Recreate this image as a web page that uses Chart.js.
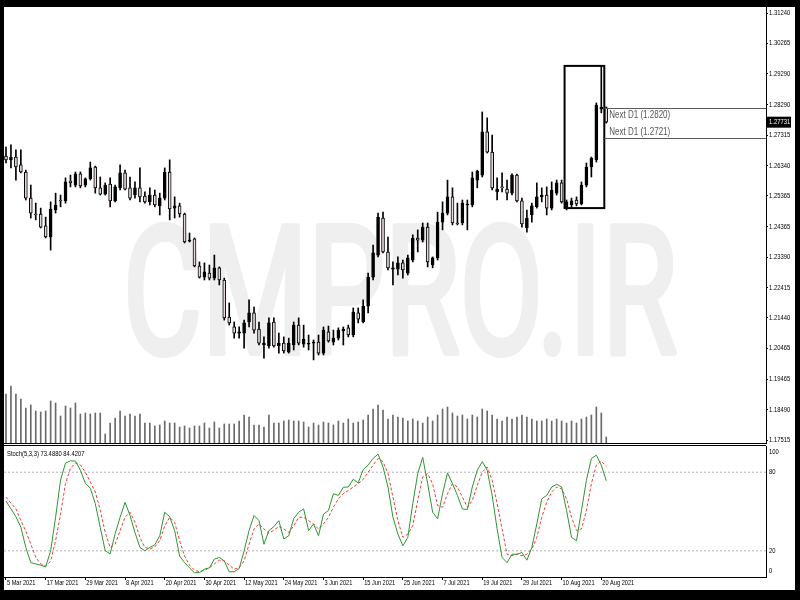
<!DOCTYPE html>
<html><head><meta charset="utf-8">
<script src="https://cdn.jsdelivr.net/npm/chart.js@4"></script>
<style>
html,body{margin:0;padding:0;background:#000;width:800px;height:600px;overflow:hidden}
#frame{position:absolute;left:4px;top:7px;width:791px;height:583px;background:#fff}
#c1{position:absolute;left:4px;top:7px}
#c2{position:absolute;left:4px;top:440px}
</style></head><body>
<div id="frame"></div>
<canvas id="c1" width="791" height="438"></canvas>
<canvas id="c2" width="791" height="150"></canvas>
<script>
// ---------- data ----------
const priceTicks = [1.31240,1.30265,1.29290,1.28290,1.27315,1.26340,1.25365,1.24365,1.23390,1.22415,1.21440,1.20465,1.19465,1.18490,1.17515];
const xTickLabels = ["5 Mar 2021","17 Mar 2021","29 Mar 2021","8 Apr 2021","20 Apr 2021","30 Apr 2021","12 May 2021","24 May 2021","3 Jun 2021","15 Jun 2021","25 Jun 2021","7 Jul 2021","19 Jul 2021","29 Jul 2021","10 Aug 2021","20 Aug 2021"];
const xTickBars = [0,8,16,24,32,40,48,56,64,72,80,88,96,104,112,120];

const open = [1.2664,1.2652,1.2661,1.2636,1.2613,1.2529,1.2478,1.2478,1.2440,1.2404,
1.2491,1.2523,1.2520,1.2584,1.2571,1.2607,1.2571,1.2591,1.2629,1.2562,
1.2542,1.2574,1.2520,1.2562,1.2610,1.2562,1.2539,1.2562,1.2536,1.2517,
1.2539,1.2504,1.2529,1.2613,1.2497,1.2504,1.2478,1.2391,1.2398,1.2311,
1.2275,1.2288,1.2272,1.2305,1.2266,1.2147,1.2115,1.2095,1.2095,1.2131,
1.2160,1.2108,1.2057,1.2054,1.2131,1.2054,1.2063,1.2034,1.2057,1.2121,
1.2060,1.2060,1.2063,1.2066,1.2031,1.2099,1.2066,1.2079,1.2102,1.2112,
1.2089,1.2160,1.2131,1.2182,1.2275,1.2346,1.2465,1.2356,1.2301,1.2301,
1.2321,1.2288,1.2330,1.2401,1.2394,1.2436,1.2314,1.2337,1.2452,1.2481,
1.2533,1.2449,1.2449,1.2507,1.2507,1.2587,1.2603,1.2742,1.2677,1.2549,
1.2565,1.2558,1.2545,1.2603,1.2520,1.2433,1.2475,1.2501,1.2533,1.2539,
1.2497,1.2545,1.2578,1.2501,1.2507,1.2523,1.2510,1.2571,1.2629,1.2652,
1.2815,1.2819];
const high = [1.2693,1.2700,1.2684,1.2684,1.2619,1.2571,1.2513,1.2497,1.2468,1.2517,
1.2545,1.2539,1.2594,1.2603,1.2613,1.2613,1.2594,1.2645,1.2632,1.2597,
1.2578,1.2594,1.2571,1.2636,1.2619,1.2597,1.2581,1.2626,1.2549,1.2562,
1.2555,1.2545,1.2626,1.2652,1.2533,1.2513,1.2481,1.2417,1.2401,1.2324,
1.2321,1.2314,1.2346,1.2308,1.2272,1.2192,1.2131,1.2115,1.2137,1.2202,
1.2179,1.2131,1.2083,1.2144,1.2144,1.2095,1.2083,1.2079,1.2131,1.2144,
1.2121,1.2089,1.2073,1.2089,1.2115,1.2118,1.2105,1.2112,1.2115,1.2121,
1.2176,1.2176,1.2202,1.2288,1.2378,1.2481,1.2484,1.2404,1.2324,1.2340,
1.2330,1.2346,1.2411,1.2427,1.2449,1.2449,1.2340,1.2484,1.2517,1.2587,
1.2562,1.2513,1.2523,1.2523,1.2613,1.2619,1.2806,1.2787,1.2732,1.2594,
1.2610,1.2587,1.2607,1.2606,1.2529,1.2491,1.2513,1.2578,1.2562,1.2565,
1.2581,1.2587,1.2587,1.2523,1.2529,1.2533,1.2581,1.2642,1.2661,1.2835,
1.2954,1.2822];
const low = [1.2642,1.2626,1.2587,1.2610,1.2523,1.2465,1.2459,1.2433,1.2401,1.2362,
1.2481,1.2501,1.2513,1.2565,1.2565,1.2562,1.2565,1.2587,1.2545,1.2539,
1.2539,1.2501,1.2517,1.2555,1.2555,1.2523,1.2529,1.2517,1.2513,1.2507,
1.2501,1.2475,1.2523,1.2459,1.2465,1.2468,1.2385,1.2388,1.2308,1.2272,
1.2266,1.2266,1.2266,1.2250,1.2137,1.2121,1.2079,1.2079,1.2047,1.2115,
1.2095,1.2057,1.2015,1.2047,1.2050,1.2031,1.2031,1.2031,1.2041,1.2057,
1.2050,1.2041,1.2009,1.2025,1.2025,1.2066,1.2057,1.2073,1.2057,1.2083,
1.2083,1.2128,1.2128,1.2160,1.2266,1.2340,1.2353,1.2298,1.2250,1.2282,
1.2272,1.2282,1.2324,1.2356,1.2388,1.2308,1.2305,1.2330,1.2427,1.2475,
1.2443,1.2443,1.2443,1.2427,1.2501,1.2562,1.2597,1.2674,1.2555,1.2523,
1.2549,1.2523,1.2539,1.2517,1.2436,1.2420,1.2452,1.2497,1.2517,1.2475,
1.2491,1.2539,1.2513,1.2491,1.2501,1.2504,1.2507,1.2565,1.2597,1.2645,
1.2803,1.2770];
const close = [1.2652,1.2661,1.2629,1.2613,1.2529,1.2481,1.2475,1.2436,1.2404,1.2494,
1.2507,1.2520,1.2581,1.2578,1.2607,1.2568,1.2591,1.2626,1.2562,1.2542,
1.2571,1.2520,1.2565,1.2610,1.2558,1.2529,1.2562,1.2533,1.2517,1.2539,
1.2507,1.2529,1.2613,1.2494,1.2504,1.2478,1.2388,1.2394,1.2311,1.2275,
1.2292,1.2272,1.2305,1.2266,1.2144,1.2128,1.2095,1.2099,1.2128,1.2160,
1.2105,1.2063,1.2063,1.2128,1.2054,1.2063,1.2038,1.2063,1.2121,1.2063,
1.2076,1.2063,1.2066,1.2031,1.2105,1.2070,1.2079,1.2105,1.2108,1.2089,
1.2163,1.2140,1.2182,1.2275,1.2353,1.2468,1.2356,1.2305,1.2305,1.2321,
1.2298,1.2337,1.2401,1.2394,1.2436,1.2324,1.2337,1.2452,1.2481,1.2533,
1.2449,1.2446,1.2513,1.2510,1.2594,1.2616,1.2742,1.2677,1.2562,1.2558,
1.2562,1.2545,1.2603,1.2520,1.2446,1.2465,1.2504,1.2533,1.2539,1.2497,
1.2555,1.2578,1.2517,1.2517,1.2520,1.2510,1.2571,1.2629,1.2658,1.2828,
1.2822,1.27731];
const volumeK = [49,57,49,44,35,38,32,31,32,42, 40,27,37,35,40,29,30,29,30,30,
9,20,25,32,27,29,27,29,20,20, 17,18,22,20,20,16,17,15,17,17,
20,15,21,15,19,19,19,22,28,26, 18,18,16,28,20,20,22,23,22,22,
21,16,20,18,21,20,18,22,20,24, 20,21,23,28,34,38,33,24,28,26,
25,22,24,22,20,26,22,28,34,36, 30,27,28,24,28,26,34,32,28,24,
22,26,24,26,28,26,24,22,22,24, 22,24,22,20,22,20,24,26,28,36,
30,6];
const stochK = [58,52,46,38,22.5,11,10,9,7.7,20, 45.6,74,87,88.7,88.5,81.5,71.5,67.7,56,38,
20,17.7,33,45.6,57,47,34,22.6,20,22.6, 24.6,31.5,49.5,46,35.4,16,11,7,3.3,3.3,
6,7,13.6,14.9,12.3,4,4,6.4,20,35.4, 47,43,25,35.4,38.5,43,29,31.5,44.6,49.5,
52,35.4,40.5,31.5,48,50.8,63.6,62.3,68.5,68.7, 74.6,71.8,82,85.4,90.5,93.8,84,68.7,45.6,32.8,
23.8,30.2,56,79,91.3,71.3,49.5,44.4,63.6,79.5, 71.3,62.3,52,51.5,68.7,81.5,88,81.5,62.3,36.7,
14.9,11,17.4,17.4,18.7,12.8,22.6,40.5,59.7,62.3, 68.7,70.8,68.7,50.8,30.2,27.7,50.8,73.8,90.5,93,
85.4,73.488];
const stochD = [61,56.4,52,43,35,25,15,10,8.5,12, 27.7,48,71.5,83,87,85.5,80,72.5,65,51,
34,22.5,25,35.4,45.6,49.5,41.8,30,22.6,21.4, 23,27.7,39,45.6,41.8,27.7,16,9,5.2,4,
5,7,10,12.8,12.3,9,6,7,12.3,25, 36.7,40.5,36.7,33.3,35.8,38.5,36.7,34,39,45.6,
45.6,43,40.5,36.7,40.5,45.6,53.3,59.7,63.6,66, 68.7,71.3,74.4,80,85.4,90.5,88,79,61,43,
30.2,32.8,39.2,58.5,76.4,79,71.3,54.6,53.3,63.6, 71.3,68.7,61,53.3,58.5,70,80,84,73.8,56,
36.7,17.4,16.2,17.4,16.2,17.4,21.3,30.2,45.6,57.2, 64.9,68.7,67.4,59.7,45.6,35.4,36.7,50.8,71.3,85.4,
88.5,84.4207];
const stochLevels = [20, 80];
const stochTicks = [0, 20, 80, 100];
const nextD1 = [1.2820, 1.2721];
const currentPrice = 1.27731;
const boxBars = [113, 120];
const boxPrices = [1.2497, 1.2954];
const xRange = [-0.4, 153.2];
const priceRange = [1.17420, 1.31433];
const volRange = [0, 436];

// ---------- styles / helpers ----------
const FAM = '"Liberation Sans",Arial,sans-serif';
const NARROW = 0.78;
const bodyColors = open.map((o,i)=> close[i] >= o ? '#000000' : '#e8dada');

function narrowText(ctx, text, x, y, size, color, align, baseline, squeeze){
  ctx.save();
  ctx.font = size + 'px ' + FAM;
  ctx.fillStyle = color;
  ctx.textAlign = align;
  ctx.textBaseline = baseline;
  ctx.translate(x, y);
  ctx.scale(squeeze || NARROW, 1);
  ctx.fillText(text, 0, 0);
  ctx.restore();
}

const mainDecor = {
  id:'mainDecor',
  beforeDatasetsDraw(chart){
    const ctx = chart.ctx;
    ctx.save();
    ctx.fillStyle = '#efefef';
    ctx.strokeStyle = '#efefef';
    ctx.lineJoin = 'round';
    ctx.font = '400 178px Roboto';
    ctx.textBaseline = 'alphabetic';
    const t = 'CMPRO.IR';
    const w = ctx.measureText(t).width;
    ctx.translate(119, 346);
    ctx.scale(554 / w, 1);
    ctx.lineWidth = 6;
    ctx.fillText(t, 0, 0);
    ctx.strokeText(t, 0, 0);
    ctx.restore();
  },
  afterDatasetsDraw(chart){
    const {ctx, chartArea:a, scales} = chart;
    const xs = scales.x, ys = scales.y;
    ctx.save();
    const x1 = xs.getPixelForValue(boxBars[0]) - 2;
    const x2 = xs.getPixelForValue(boxBars[1]) + 3;
    const y1 = ys.getPixelForValue(boxPrices[1]);
    const y2 = ys.getPixelForValue(boxPrices[0]);
    ctx.strokeStyle = '#000'; ctx.lineWidth = 2;
    ctx.strokeRect(x1, y1, x2 - x1, y2 - y1);
    ctx.lineWidth = 1; ctx.strokeStyle = '#5a5a5a';
    nextD1.forEach((v, k) => {
      const y = Math.round(ys.getPixelForValue(v)) + 0.5;
      ctx.beginPath(); ctx.moveTo(x2, y); ctx.lineTo(a.right, y); ctx.stroke();
      const txt = 'Next D1 (' + v.toFixed(4) + ')';
      if (k === 0) narrowText(ctx, txt, x2 + 5, y + 2, 10, '#555', 'left', 'top', 0.8);
      else narrowText(ctx, txt, x2 + 5, y - 1, 10, '#555', 'left', 'bottom', 0.8);
    });
    ctx.restore();
  },
  afterDraw(chart){
    const {ctx, chartArea:a, scales} = chart;
    ctx.save();
    ctx.strokeStyle = '#000'; ctx.lineWidth = 1;
    ctx.beginPath(); ctx.moveTo(0, a.bottom + 0.5); ctx.lineTo(a.right, a.bottom + 0.5); ctx.stroke();
    ctx.restore();
    priceTicks.forEach(v => {
      narrowText(ctx, v.toFixed(5), a.right + 3, scales.y.getPixelForValue(v), 7.5, '#000', 'left', 'middle');
    });
    const y = scales.y.getPixelForValue(currentPrice);
    ctx.save();
    ctx.fillStyle = '#000';
    ctx.fillRect(a.right, y - 5.5, 25, 11);
    ctx.restore();
    narrowText(ctx, currentPrice.toFixed(5), a.right + 3, y, 7.5, '#fff', 'left', 'middle');
  }
};

const stochDecor = {
  id:'stochDecor',
  afterDraw(chart){
    const {ctx, chartArea:a, scales} = chart;
    ctx.save();
    ctx.strokeStyle = '#000'; ctx.lineWidth = 1;
    ctx.beginPath(); ctx.moveTo(0, a.top - 0.5); ctx.lineTo(a.right, a.top - 0.5); ctx.stroke();
    ctx.restore();
    const n = stochK.length - 1;
    narrowText(ctx, 'Stoch(5,3,3) ' + stochK[n].toFixed(4) + ' ' + stochD[n].toFixed(4), 3, a.top + 4, 7.5, '#000', 'left', 'top');
    stochTicks.forEach(v => {
      let y = scales.y.getPixelForValue(v);
      y = Math.min(Math.max(y, a.top + 6), a.bottom - 6);
      narrowText(ctx, String(v), a.right + 3, y, 7.5, '#000', 'left', 'middle');
    });
    xTickBars.forEach((b, k) => {
      narrowText(ctx, xTickLabels[k], scales.x.getPixelForValue(b) + 1, a.bottom + 6, 7.5, '#000', 'left', 'middle', 0.75);
    });
  }
};

const idx = open.map((_, i) => i);

new Chart(document.getElementById('c1'), {
  type: 'bar',
  data: {
    datasets: [
      { data: idx.map(i => ({x:i, y:[open[i], close[i]]})), backgroundColor: bodyColors,
        borderColor:'#000', borderWidth:1, borderSkipped:false, barThickness:3, grouped:false, yAxisID:'y' },
      { data: idx.map(i => ({x:i, y:[low[i], high[i]]})), backgroundColor:'#000',
        borderWidth:0, barThickness:1, grouped:false, yAxisID:'y' },
      { data: idx.map(i => ({x:i, y:volumeK[i]})), backgroundColor:'#6a6a6a',
        borderWidth:0, barThickness:1, grouped:false, yAxisID:'yv' }
    ]
  },
  options: {
    responsive:false, devicePixelRatio:1, animation:false,
    layout:{padding:{top:0,bottom:2,left:0,right:0}},
    plugins:{legend:{display:false}, tooltip:{enabled:false}},
    scales:{
      x:{type:'linear', display:false, min:xRange[0], max:xRange[1], offset:false},
      y:{position:'right', min:priceRange[0], max:priceRange[1],
         afterBuildTicks: s => { s.ticks = priceTicks.map(v => ({value:v})); },
         afterFit: s => { s.width = 29; },
         grid:{drawOnChartArea:false, drawTicks:true, tickLength:2, color:'#000'},
         border:{display:true, color:'#000', width:1},
         ticks:{display:false}},
      yv:{position:'left', display:false, min:volRange[0], max:volRange[1]}
    }
  },
  plugins:[mainDecor]
});

new Chart(document.getElementById('c2'), {
  type: 'line',
  data: {
    datasets: [
      { data: idx.map(i => ({x:i, y:stochK[i]})), borderColor:'#2f962f', borderWidth:1, pointRadius:0, tension:0 },
      { data: idx.map(i => ({x:i, y:stochD[i]})), borderColor:'#f03c3c', borderWidth:1, borderDash:[3,2], pointRadius:0, tension:0 },
      ...stochLevels.map(l => ({ data:[{x:xRange[0], y:l},{x:xRange[1], y:l}], borderColor:'#b4b4b4', borderWidth:1, borderDash:[2,2], pointRadius:0 }))
    ]
  },
  options: {
    responsive:false, devicePixelRatio:1, animation:false,
    layout:{padding:{top:6,bottom:0,left:0,right:0}},
    plugins:{legend:{display:false}, tooltip:{enabled:false}},
    scales:{
      x:{type:'linear', min:xRange[0], max:xRange[1], offset:false,
         afterBuildTicks: s => { s.ticks = xTickBars.map(v => ({value:v})); },
         afterFit: s => { s.height = 13; },
         grid:{drawOnChartArea:false, drawTicks:true, tickLength:3, color:'#000'},
         border:{display:true, color:'#000', width:1},
         ticks:{display:false}},
      y:{position:'right', min:0, max:100,
         afterBuildTicks: s => { s.ticks = stochTicks.map(v => ({value:v})); },
         afterFit: s => { s.width = 29; },
         grid:{drawOnChartArea:false, drawTicks:false, color:'#000'},
         border:{display:true, color:'#000', width:1},
         ticks:{display:false}}
    }
  },
  plugins:[stochDecor]
});
</script>
</body></html>
